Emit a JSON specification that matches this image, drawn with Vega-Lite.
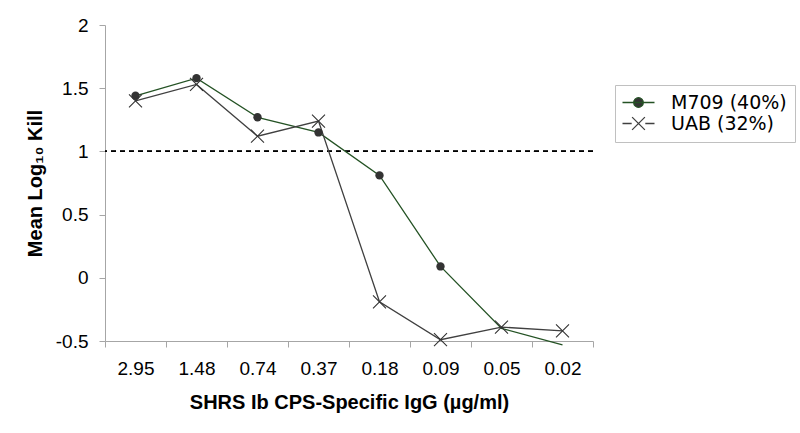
{
  "$schema": "https://vega.github.io/schema/vega-lite/v6.json",
  "width": 488,
  "height": 316,
  "autosize": {"type": "none"},
  "padding": {"left": 105, "top": 25, "right": 207, "bottom": 92},
  "background": "white",
  "config": {
    "view": {"stroke": null},
    "axis": {
      "grid": false,
      "domainColor": "#a6a6a6",
      "tickColor": "#a6a6a6",
      "tickSize": 6,
      "labelFont": "Liberation Sans",
      "labelFontSize": 19,
      "labelColor": "#000000",
      "titleFont": "Liberation Sans",
      "titleFontSize": 20,
      "titleFontWeight": "bold",
      "titleColor": "#000000"
    }
  },
  "data": {
    "values": [
      {"conc": "2.95", "series": "M709 (40%)", "kill": 1.44},
      {"conc": "1.48", "series": "M709 (40%)", "kill": 1.58},
      {"conc": "0.74", "series": "M709 (40%)", "kill": 1.27},
      {"conc": "0.37", "series": "M709 (40%)", "kill": 1.15},
      {"conc": "0.18", "series": "M709 (40%)", "kill": 0.81},
      {"conc": "0.09", "series": "M709 (40%)", "kill": 0.09},
      {"conc": "0.05", "series": "M709 (40%)", "kill": -0.4},
      {"conc": "0.02", "series": "M709 (40%)", "kill": -0.53},
      {"conc": "2.95", "series": "UAB (32%)", "kill": 1.4},
      {"conc": "1.48", "series": "UAB (32%)", "kill": 1.53},
      {"conc": "0.74", "series": "UAB (32%)", "kill": 1.12},
      {"conc": "0.37", "series": "UAB (32%)", "kill": 1.24},
      {"conc": "0.18", "series": "UAB (32%)", "kill": -0.19},
      {"conc": "0.09", "series": "UAB (32%)", "kill": -0.49},
      {"conc": "0.05", "series": "UAB (32%)", "kill": -0.39},
      {"conc": "0.02", "series": "UAB (32%)", "kill": -0.42}
    ]
  },
  "layer": [
    {
      "mark": {"type": "rule", "strokeDash": [5, 4], "color": "#000000", "strokeWidth": 1},
      "encoding": {"y": {"datum": 1, "type": "quantitative"}}
    },
    {
      "encoding": {
        "x": {
          "field": "conc",
          "type": "ordinal",
          "sort": null,
          "scale": {"type": "band", "paddingInner": 0, "paddingOuter": 0},
          "axis": {
            "title": "SHRS Ib CPS-Specific IgG (µg/ml)",
            "labelAngle": 0,
            "tickBand": "extent",
            "labelPadding": 12,
            "titlePadding": 14
          }
        },
        "y": {
          "field": "kill",
          "type": "quantitative",
          "scale": {"domain": [-0.5, 2], "nice": false, "zero": false},
          "axis": {
            "title": "Mean Log₁₀ Kill",
            "values": [-0.5, 0, 0.5, 1, 1.5, 2],
            "labelExpr": "toString(datum.value)",
            "labelPadding": 11,
            "titlePadding": 10
          }
        }
      },
      "layer": [
        {
          "mark": {"type": "line", "strokeWidth": 1.3},
          "encoding": {
            "color": {
              "field": "series",
              "type": "nominal",
              "scale": {"domain": ["M709 (40%)", "UAB (32%)"], "range": ["#245224", "#404040"]},
              "legend": {
                "title": null,
                "orient": "none",
                "legendX": 510,
                "legendY": 60,
                "padding": 8,
                "strokeColor": "#c0c0c0",
                "fillColor": "white",
                "labelFont": "DejaVu Sans",
                "labelFontSize": 19,
                "labelColor": "#000000",
                "symbolSize": 256,
                "symbolOffset": 6,
                "labelOffset": 23,
                "rowPadding": 1,
                "symbolStrokeWidth": 1.3,
                "encode": {
                  "symbols": {
                    "update": {
                      "shape": {"signal": "datum.value == 'M709 (40%)' ? 'M-2,0H2M-0.6,0A0.6,0.6 0 1,0 0.6,0A0.6,0.6 0 1,0 -0.6,0Z' : 'M-2,0H-0.85M0.85,0H2M-0.8,-0.8L0.8,0.8M-0.8,0.8L0.8,-0.8'"},
                      "fill": {"signal": "datum.value == 'M709 (40%)' ? '#333333' : 'transparent'"},
                      "fillOpacity": {"value": 1},
                      "opacity": {"value": 1}
                    }
                  }
                }
              }
            }
          }
        },
        {
          "transform": [{"filter": "datum.series == 'M709 (40%)' && datum.kill > -0.3"}],
          "mark": {"type": "point", "shape": "circle", "filled": true, "size": 70, "color": "#333333", "opacity": 1}
        },
        {
          "transform": [{"filter": "datum.series == 'UAB (32%)'"}],
          "mark": {"type": "point", "shape": "M-1,-1L1,1M-1,1L1,-1", "filled": false, "size": 169, "color": "#333333", "strokeWidth": 1.1, "opacity": 1}
        }
      ]
    }
  ]
}
